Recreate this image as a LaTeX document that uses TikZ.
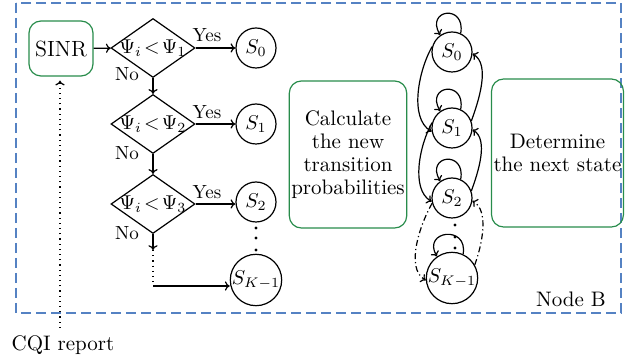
\documentclass[tikz,border=0pt]{standalone}
\usetikzlibrary{shapes.geometric,arrows.meta}
\definecolor{boxgreen}{RGB}{40,140,75}
\definecolor{frameblue}{RGB}{85,130,195}
\begin{document}
\begin{tikzpicture}[x=0.5pt,y=0.5pt,line width=0.6pt,>={To[length=2.4pt,width=4.6pt]},
    state/.style={circle,draw,minimum size=20pt,inner sep=0pt,font=\fontsize{10}{11}\selectfont},
    test/.style={diamond,draw,aspect=1.42,minimum width=42pt,minimum height=29.5pt,inner sep=-1pt,font=\fontsize{10}{11}\selectfont},
    greenbox/.style={draw=boxgreen,rounded corners=6pt,align=center,inner sep=1pt,font=\fontsize{10.5}{11.5}\selectfont},
    lbl/.style={font=\fontsize{9.5}{10}\selectfont,inner sep=0pt},
    dashdot/.style={dash pattern=on 3pt off 1.5pt on 0.6pt off 1.5pt}]
    \useasboundingbox (0,0) rectangle (627,364);
    \draw[frameblue,line width=0.65pt,dash pattern=on 5pt off 2.5pt] (16,361) rectangle (621,51);
    \node[lbl,font=\fontsize{10.5}{12}\selectfont] (nodeb) at (571,65) {Node B};

    \node[greenbox,minimum width=32pt,minimum height=27.5pt,font=\fontsize{11}{12}\selectfont] (sinr) at (61,315.5) {SINR};
    \node[test] (d1) at (153,316) {$\Psi_i\mkern2mu{<}\mkern2mu\Psi_1$};
    \node[test] (d2) at (153,240) {$\Psi_i\mkern2mu{<}\mkern2mu\Psi_2$};
    \node[test] (d3) at (153,160) {$\Psi_i\mkern2mu{<}\mkern2mu\Psi_3$};
    \node[state] (s0) at (256,316) {$S_0$};
    \node[state] (s1) at (256,240) {$S_1$};
    \node[state] (s2) at (256,162) {$S_2$};
    \node[state] (sk) at (256,84) {$S_{K-1}$};
    \coordinate (d3end) at (153,114);
    \coordinate (corner) at (153,78);
    \foreach \y in {136,126,114} \fill (256,\y) circle (0.8pt);

    \draw[->] (sinr) -- (d1);
    \draw[->] (d1) -- (d1 -| s0.west);
    \draw[->] (d2) -- (d2 -| s1.west);
    \draw[->] (d3) -- (d3 -| s2.west);
    \draw[->] (d1) -- (d2);
    \draw[->] (d2) -- (d3);
    \draw[->] (d3) -- (d3end);
    \draw[dotted] (d3end) -- (corner);
    \draw[->] (corner) -- (corner -| sk.west);
    \node[lbl] (yes1) at (207,329) {Yes};
    \node[lbl] (yes2) at (207,252) {Yes};
    \node[lbl] (yes3) at (207,172) {Yes};
    \node[lbl] (no1) at (127,290) {No};
    \node[lbl] (no2) at (127,211) {No};
    \node[lbl] (no3) at (127,131) {No};

    \node[lbl,font=\fontsize{10.5}{12}\selectfont] (cqi) at (63,19) {CQI report};
    \coordinate (cqitop) at (60,36);
    \draw[dotted,->] (cqitop) -- ([yshift=-2pt]cqitop |- sinr.south);

    \node[greenbox,minimum width=57pt,minimum height=73.5pt] (calc) at (348,209.5) {Calculate\\the new\\transition\\probabilities};
    \node[greenbox,minimum width=60.5pt,minimum height=74pt] (next) at (557.5,211) {Determine\\the next state};

    \node[state] (m0) at (452,312) {$S_0$};
    \node[state] (m1) at (452,236) {$S_1$};
    \node[state] (m2) at (452,166) {$S_2$};
    \node[state] (mk) at (452,86) {$S_{K-1}$};
    \foreach \y in {139,127,116} \fill (455,\y) circle (0.8pt);
    \foreach \m in {m0,m1,m2,mk}
        \draw[->] (\m.65) .. controls +(80:15pt) and +(120:15pt) .. (\m.125);
    \draw[->] (m0.165) to[out=240,in=150,looseness=0.8] (m1.190);
    \draw[->] (m1.20) to[out=70,in=-30,looseness=0.8] (m0.-5);
    \draw[->] (m1.165) to[out=240,in=150,looseness=0.8] (m2.190);
    \draw[->] (m2.20) to[out=70,in=-30,looseness=0.8] (m1.-5);
    \draw[->,dashdot] (m2.195) to[out=240,in=150,looseness=0.8] (mk.185);
    \draw[->,dashdot] (mk.30) to[out=70,in=-30,looseness=0.8] (m2.-8);
\end{tikzpicture}
\end{document}
